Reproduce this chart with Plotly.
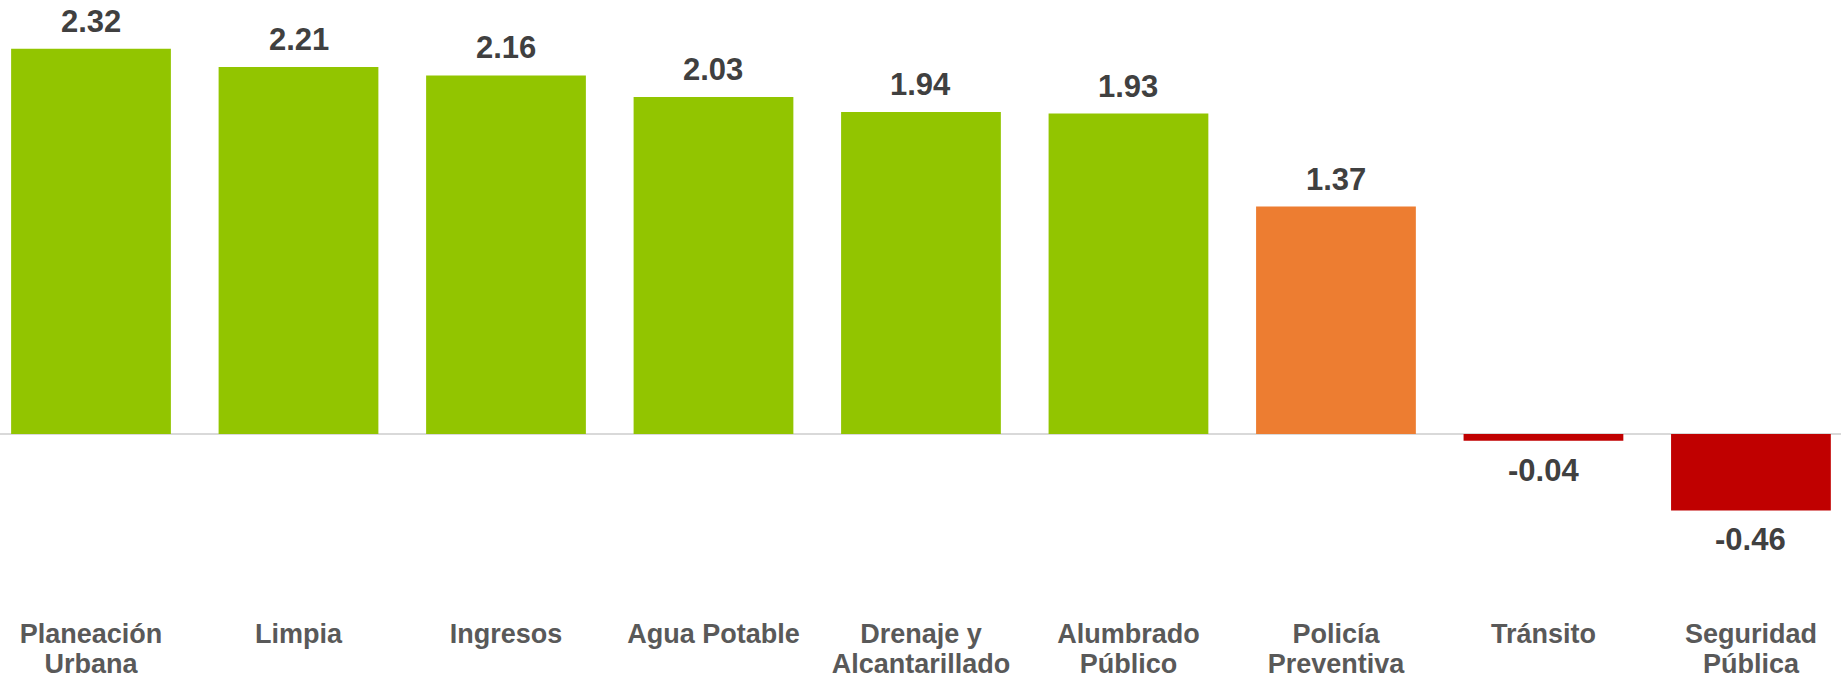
import plotly.graph_objects as go

categories_line1 = ["Planeación", "Limpia", "Ingresos", "Agua Potable", "Drenaje y",
                    "Alumbrado", "Policía", "Tránsito", "Seguridad"]
categories_line2 = ["Urbana", "", "", "", "Alcantarillado", "Público", "Preventiva", "", "Pública"]
values = [2.32, 2.21, 2.16, 2.03, 1.94, 1.93, 1.37, -0.04, -0.46]
bar_colors = ["#92C500"] * 6 + ["#ED7D31", "#C00000", "#C00000"]

x_idx = list(range(len(values)))
FONT = "Liberation Sans, Arial"
xr = [-0.4386, 8.434]

fig = go.Figure()
fig.add_trace(go.Bar(
    x=x_idx, y=values, marker=dict(color=bar_colors, line=dict(width=0)),
    width=0.77, hoverinfo="skip",
))
# invisible trace to activate the second x axis (second line of category labels)
fig.add_trace(go.Scatter(x=x_idx, y=[0] * len(x_idx), xaxis="x2", mode="markers",
                         marker=dict(opacity=0), hoverinfo="skip"))

for i, v in zip(x_idx, values):
    fig.add_annotation(
        x=i, y=v, text=f"<b>{v:.2f}</b>", showarrow=False,
        yanchor="bottom" if v >= 0 else "top",
        yshift=8 if v >= 0 else -10,
        font=dict(family=FONT, size=31, color="#404040"),
    )

tickfont = dict(family=FONT, size=27, color="#595959")
fig.update_layout(
    width=1841, height=680,
    margin=dict(l=0, r=0, t=0, b=70),
    plot_bgcolor="white", paper_bgcolor="white",
    showlegend=False,
    font=dict(family=FONT),
    xaxis=dict(
        range=xr, tickmode="array", tickvals=x_idx,
        ticktext=[f"<b>{c}</b>" for c in categories_line1],
        showgrid=False, zeroline=False, showline=False, ticks="",
        tickfont=tickfont, automargin=False, ticklabelstandoff=5,
    ),
    xaxis2=dict(
        range=xr, overlaying="x", side="bottom", anchor="y", tickmode="array", tickvals=x_idx,
        ticktext=[f"<b>{c}</b>" if c else "" for c in categories_line2],
        showgrid=False, zeroline=False, showline=False, ticks="",
        tickfont=tickfont, automargin=False, ticklabelstandoff=35,
    ),
    yaxis=dict(
        range=[-1.06, 2.614], showgrid=False, showticklabels=False, ticks="",
        zeroline=True, zerolinecolor="#D9D9D9", zerolinewidth=2, showline=False,
        automargin=False,
    ),
)

fig.write_html("out.html", config={"displayModeBar": False},
               post_script="document.body.style.margin='0';document.body.style.overflow='hidden';")
